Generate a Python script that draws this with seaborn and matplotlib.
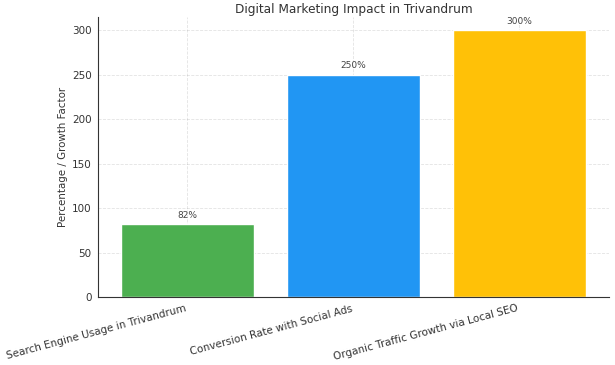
import matplotlib
matplotlib.use("Agg")
import matplotlib.pyplot as plt
import seaborn as sns
import pandas as pd

categories = ["Search Engine Usage in Trivandrum", "Conversion Rate with Social Ads",
              "Organic Traffic Growth via Local SEO"]
values = [82, 250, 300]
labels = ["82%", "250%", "300%"]
colors = ["#4CAF50", "#2196F3", "#FFC107"]

sns.set_style("white")
plt.rcParams['font.family'] = ['DejaVu Sans']

df = pd.DataFrame({"cat": categories, "val": values})
fig = plt.figure(figsize=(6.15, 3.65), dpi=100)
ax = fig.add_axes([0.159, 0.186, 0.831, 0.767])
sns.barplot(data=df, x="cat", y="val", hue="cat", palette=colors, dodge=False,
            width=0.8, saturation=1, legend=False, ax=ax)
ax.set_xlim(-0.54, 2.54)
ax.set_ylim(0, 315)
for p in ax.patches:
    p.set_zorder(1)
ax.grid(True, linestyle="--", color="#808080", linewidth=0.6, alpha=0.22, zorder=2)
for sp in ["top", "right"]:
    ax.spines[sp].set_visible(False)
for sp in ["left", "bottom"]:
    ax.spines[sp].set_color("#333333")
    ax.spines[sp].set_linewidth(0.8)
    ax.spines[sp].set_zorder(3)
for i, (v, l) in enumerate(zip(values, labels)):
    ax.text(i, v + 5, l, ha="center", va="bottom", fontsize=6.5, color="#444444")
ax.set_title("Digital Marketing Impact in Trivandrum", fontsize=8.7, color="#333333", pad=3)
ax.set_xlabel("")
ax.set_ylabel("Percentage / Growth Factor", fontsize=7.4, color="#333333", labelpad=3)
ax.tick_params(axis="both", labelsize=7.5, colors="#333333", length=3, width=0.6, pad=1.5)
ax.set_yticks([0, 50, 100, 150, 200, 250, 300])
plt.setp(ax.get_xticklabels(), rotation=15, ha="right", color="#333333")
fig.savefig("out.png", dpi=100)
